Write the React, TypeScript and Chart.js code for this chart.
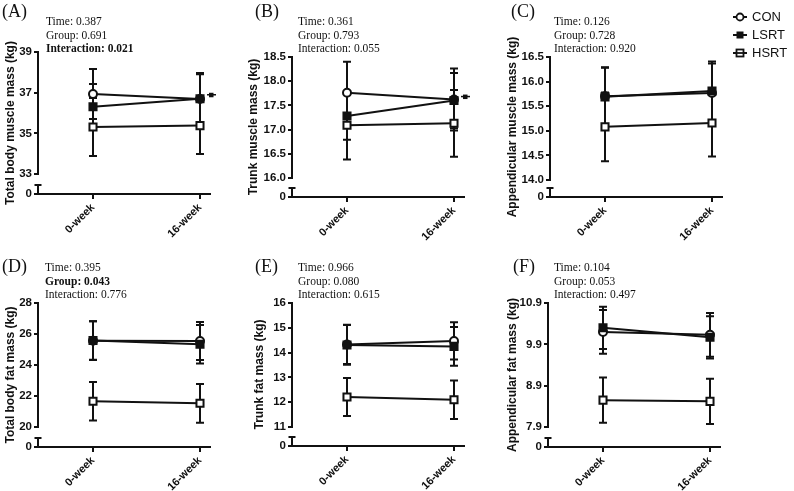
import React, { useEffect, useRef } from 'react';
import { Chart, registerables } from 'chart.js';

Chart.register(...registerables);

const INK = '#111111';
const SANS = '"Liberation Sans", Arial, sans-serif';
const SERIF = '"Liberation Serif", "Times New Roman", serif';

// ---------- data ----------
const timepoints = ['0-week', '16-week'];
const groups = ['CON', 'LSRT', 'HSRT'];
const statNames = ['Time', 'Group', 'Interaction'];

// (A) Total body muscle mass
const aCON = [36.93, 36.69];
const aCONsd = [1.23, 1.28];
const aLSRT = [36.31, 36.7];
const aLSRTsd = [1.12, 1.2];
const aHSRT = [35.31, 35.38];
const aHSRTsd = [1.43, 1.4];
const aTicks = [33, 35, 37, 39];
const aStats = ['0.387', '0.691', '0.021'];

// (B) Trunk muscle mass
const bCON = [17.76, 17.62];
const bCONsd = [0.64, 0.64];
const bLSRT = [17.28, 17.6];
const bLSRTsd = [0.49, 0.57];
const bHSRT = [17.09, 17.13];
const bHSRTsd = [0.71, 0.69];
const bTicks = [16.0, 16.5, 17.0, 17.5, 18.0, 18.5];
const bStats = ['0.361', '0.793', '0.055'];

// (C) Appendicular muscle mass
const cCON = [15.7, 15.77];
const cCONsd = [0.58, 0.6];
const cLSRT = [15.69, 15.81];
const cLSRTsd = [0.6, 0.6];
const cHSRT = [15.08, 15.16];
const cHSRTsd = [0.7, 0.68];
const cTicks = [14.0, 14.5, 15.0, 15.5, 16.0, 16.5];
const cStats = ['0.126', '0.728', '0.920'];

// (D) Total body fat mass
const dCON = [25.57, 25.55];
const dCONsd = [1.25, 1.22];
const dLSRT = [25.58, 25.34];
const dLSRTsd = [1.24, 1.24];
const dHSRT = [21.66, 21.53];
const dHSRTsd = [1.24, 1.25];
const dTicks = [20, 22, 24, 26, 28];
const dStats = ['0.395', '0.043', '0.776'];

// (E) Trunk fat mass
const eCON = [14.33, 14.47];
const eCONsd = [0.79, 0.75];
const eLSRT = [14.31, 14.25];
const eLSRTsd = [0.8, 0.78];
const eHSRT = [12.21, 12.1];
const eHSRTsd = [0.77, 0.78];
const eTicks = [11, 12, 13, 14, 15, 16];
const eStats = ['0.966', '0.080', '0.615'];

// (F) Appendicular fat mass
const fCON = [10.2, 10.13];
const fCONsd = [0.53, 0.53];
const fLSRT = [10.3, 10.07];
const fLSRTsd = [0.51, 0.51];
const fHSRT = [8.55, 8.52];
const fHSRTsd = [0.55, 0.55];
const fTicks = [7.9, 8.9, 9.9, 10.9];
const fStats = ['0.104', '0.053', '0.497'];

// ---------- layout ----------
const PLOT_W = 172;
const X_MIN = -55 / 107;
const X_MAX = 1 + 10 / 107;

type PanelCfg = {
  label: string;
  title: string;
  means: number[][];
  sds: number[][];
  ticks: number[];
  decimals: number;
  stats: string[];
  boldStat: number;
  flag: boolean;
  legend: boolean;
  axisX: number;
  topY: number;
  loY: number;
  axisY: number;
  yWidth: number;
  rowTop: number;
  rowH: number;
  padRight: number;
  statsX: number;
  statsY: number;
  labelX: number;
  labelY: number;
};

const panels: PanelCfg[] = [
  {
    label: '(A)', title: 'Total body muscle mass (kg)',
    means: [aCON, aLSRT, aHSRT], sds: [aCONsd, aLSRTsd, aHSRTsd],
    ticks: aTicks, decimals: 0, stats: aStats, boldStat: 2, flag: true, legend: false,
    axisX: 38, topY: 52, loY: 174, axisY: 194, yWidth: 38, rowTop: 0, rowH: 245, padRight: 22,
    statsX: 46, statsY: 15, labelX: 2, labelY: 1,
  },
  {
    label: '(B)', title: 'Trunk muscle mass (kg)',
    means: [bCON, bLSRT, bHSRT], sds: [bCONsd, bLSRTsd, bHSRTsd],
    ticks: bTicks, decimals: 1, stats: bStats, boldStat: -1, flag: true, legend: false,
    axisX: 292, topY: 57, loY: 178, axisY: 197, yWidth: 49, rowTop: 0, rowH: 245, padRight: 22,
    statsX: 298, statsY: 15, labelX: 255, labelY: 1,
  },
  {
    label: '(C)', title: 'Appendicular muscle mass (kg)',
    means: [cCON, cLSRT, cHSRT], sds: [cCONsd, cLSRTsd, cHSRTsd],
    ticks: cTicks, decimals: 1, stats: cStats, boldStat: -1, flag: false, legend: true,
    axisX: 550, topY: 57, loY: 180, axisY: 197, yWidth: 48, rowTop: 0, rowH: 245, padRight: 72,
    statsX: 554, statsY: 15, labelX: 511, labelY: 1,
  },
  {
    label: '(D)', title: 'Total body fat mass (kg)',
    means: [dCON, dLSRT, dHSRT], sds: [dCONsd, dLSRTsd, dHSRTsd],
    ticks: dTicks, decimals: 0, stats: dStats, boldStat: 1, flag: false, legend: false,
    axisX: 38, topY: 303, loY: 427, axisY: 447, yWidth: 38, rowTop: 245, rowH: 246, padRight: 22,
    statsX: 45, statsY: 261, labelX: 2, labelY: 256,
  },
  {
    label: '(E)', title: 'Trunk fat mass (kg)',
    means: [eCON, eLSRT, eHSRT], sds: [eCONsd, eLSRTsd, eHSRTsd],
    ticks: eTicks, decimals: 0, stats: eStats, boldStat: -1, flag: false, legend: false,
    axisX: 292, topY: 303, loY: 427, axisY: 446, yWidth: 43, rowTop: 245, rowH: 246, padRight: 22,
    statsX: 298, statsY: 261, labelX: 255, labelY: 256,
  },
  {
    label: '(F)', title: 'Appendicular fat mass (kg)',
    means: [fCON, fLSRT, fHSRT], sds: [fCONsd, fLSRTsd, fHSRTsd],
    ticks: fTicks, decimals: 1, stats: fStats, boldStat: -1, flag: false, legend: false,
    axisX: 548, topY: 303, loY: 427, axisY: 447, yWidth: 46, rowTop: 245, rowH: 246, padRight: 22,
    statsX: 554, statsY: 261, labelX: 513, labelY: 256,
  },
];

// CON open circle, LSRT filled square (drawn on top), HSRT open square
const markerStyles = [
  { pointStyle: 'circle', radius: 4, bg: '#ffffff', order: 1 },
  { pointStyle: 'rect', radius: 5, bg: INK, order: 0 },
  { pointStyle: 'rect', radius: 5, bg: '#ffffff', order: 2 },
];

// ---------- plugins ----------
const errorBars = {
  id: 'errorBars',
  beforeDatasetsDraw(chart: any) {
    const { ctx } = chart;
    const xs = chart.scales.x;
    const ys = chart.scales.y;
    ctx.save();
    ctx.strokeStyle = INK;
    ctx.lineWidth = 2;
    chart.data.datasets.forEach((ds: any) => {
      ds.data.forEach((pt: any, j: number) => {
        const sd = ds.sd[j];
        const x = xs.getPixelForValue(pt.x);
        const yt = ys.getPixelForValue(pt.y + sd);
        const yb = ys.getPixelForValue(pt.y - sd);
        ctx.beginPath();
        ctx.moveTo(x, yt);
        ctx.lineTo(x, yb);
        ctx.moveTo(x - 4, yt);
        ctx.lineTo(x + 4, yt);
        ctx.moveTo(x - 4, yb);
        ctx.lineTo(x + 4, yb);
        ctx.stroke();
      });
    });
    ctx.restore();
  },
};

const brokenAxis = {
  id: 'brokenAxis',
  afterDraw(chart: any, _args: any, opts: any) {
    const { ctx, chartArea } = chart;
    const ys = chart.scales.y;
    const x0 = chartArea.left;
    ctx.save();
    ctx.strokeStyle = INK;
    ctx.lineWidth = 2;
    ctx.beginPath();
    ctx.moveTo(x0, ys.getPixelForValue(opts.hi) - 1);
    ctx.lineTo(x0, ys.getPixelForValue(opts.lo) + 1);
    const capY = chartArea.bottom - 9;
    ctx.moveTo(x0, capY);
    ctx.lineTo(x0, chartArea.bottom);
    ctx.moveTo(x0 - 3.5, capY);
    ctx.lineTo(x0 + 3.5, capY);
    ctx.stroke();

    if (opts.flag) {
      const ds = chart.data.datasets[1];
      const px = chart.scales.x.getPixelForValue(1);
      const py = ys.getPixelForValue(ds.data[1].y) - 4;
      ctx.lineWidth = 1.5;
      ctx.beginPath();
      ctx.moveTo(px + 7, py);
      ctx.lineTo(px + 16, py);
      ctx.stroke();
      ctx.fillStyle = INK;
      ctx.fillRect(px + 9, py - 2, 4.5, 4.5);
    }

    if (opts.legend) {
      const lx = chartArea.right + 11;
      groups.forEach((g, i) => {
        const cy = chartArea.top - 40 + i * 18;
        ctx.strokeStyle = INK;
        ctx.lineWidth = 2;
        ctx.beginPath();
        ctx.moveTo(lx, cy);
        ctx.lineTo(lx + 14, cy);
        ctx.stroke();
        const cx = lx + 7;
        ctx.lineWidth = 1.8;
        if (i === 0) {
          ctx.beginPath();
          ctx.arc(cx, cy, 3.5, 0, Math.PI * 2);
          ctx.fillStyle = '#fff';
          ctx.fill();
          ctx.stroke();
        } else if (i === 1) {
          ctx.fillStyle = INK;
          ctx.fillRect(cx - 3.5, cy - 3.5, 7, 7);
        } else {
          ctx.fillStyle = '#fff';
          ctx.fillRect(cx - 3.5, cy - 3.5, 7, 7);
          ctx.strokeRect(cx - 3.5, cy - 3.5, 7, 7);
          ctx.beginPath();
          ctx.moveTo(cx - 3.5, cy);
          ctx.lineTo(cx + 3.5, cy);
          ctx.stroke();
        }
        ctx.fillStyle = INK;
        ctx.font = `13px ${SANS}`;
        ctx.textBaseline = 'middle';
        ctx.textAlign = 'left';
        ctx.fillText(g, lx + 19, cy + 0.5);
      });
    }
    ctx.restore();
  },
};

// ---------- components ----------
function Panel({ p }: { p: PanelCfg }) {
  const ref = useRef<HTMLCanvasElement>(null);
  const left = p.axisX - p.yWidth;
  const width = p.axisX + PLOT_W + p.padRight - left;

  useEffect(() => {
    const lo = p.ticks[0];
    const hi = p.ticks[p.ticks.length - 1];
    const yMin = lo - ((p.axisY - p.loY) * (hi - lo)) / (p.loY - p.topY);
    const tickVals = [yMin, ...p.ticks];

    const datasets = p.means.map((m, gi) => ({
      label: groups[gi],
      data: m.map((v, i) => ({ x: i, y: v })),
      sd: p.sds[gi],
      order: markerStyles[gi].order,
      borderColor: INK,
      borderWidth: 2,
      pointStyle: markerStyles[gi].pointStyle,
      pointRadius: markerStyles[gi].radius,
      pointBackgroundColor: markerStyles[gi].bg,
      pointBorderColor: INK,
      pointBorderWidth: 2,
      tension: 0,
      fill: false,
    }));

    const chart = new Chart(ref.current as HTMLCanvasElement, {
      type: 'line',
      data: { datasets } as any,
      options: {
        responsive: false,
        maintainAspectRatio: false,
        animation: false,
        layout: { padding: { top: p.topY - p.rowTop, right: p.padRight, bottom: 0, left: 0 } },
        plugins: {
          legend: { display: false },
          tooltip: { enabled: false },
          brokenAxis: { lo, hi, flag: p.flag, legend: p.legend },
        } as any,
        scales: {
          x: {
            type: 'linear',
            min: X_MIN,
            max: X_MAX,
            grid: { drawOnChartArea: false, drawTicks: true, tickLength: 5, color: INK, lineWidth: 2 },
            border: { display: true, color: INK, width: 2 },
            ticks: {
              autoSkip: false,
              minRotation: 45,
              maxRotation: 45,
              padding: 2,
              color: INK,
              font: { family: SANS, weight: 'bold', size: 11 },
              callback: (v: any) => timepoints[Math.round(Number(v))] ?? '',
            },
            afterBuildTicks: (s: any) => {
              s.ticks = timepoints.map((_, i) => ({ value: i }));
            },
            afterFit: (s: any) => {
              s.height = p.rowTop + p.rowH - p.axisY;
            },
          },
          y: {
            type: 'linear',
            min: yMin,
            max: hi,
            grid: { drawOnChartArea: false, drawTicks: true, tickLength: 4, color: INK, lineWidth: 2 },
            border: { display: false },
            ticks: {
              autoSkip: false,
              padding: 2,
              color: INK,
              font: { family: SANS, weight: 'bold', size: 11.5 },
              callback: (v: any, idx: number) => (idx === 0 ? '0' : Number(v).toFixed(p.decimals)),
            },
            afterBuildTicks: (s: any) => {
              s.ticks = tickVals.map((v) => ({ value: v }));
            },
            afterFit: (s: any) => {
              s.width = p.yWidth;
            },
            title: {
              display: true,
              text: p.title,
              color: INK,
              font: { family: SANS, weight: 'bold', size: 12 },
              padding: { top: 3, bottom: 0 },
            },
          },
        },
      } as any,
      plugins: [errorBars, brokenAxis],
    });
    return () => chart.destroy();
  }, []);

  return (
    <canvas
      ref={ref}
      width={width}
      height={p.rowH}
      style={{ position: 'absolute', left, top: p.rowTop, width, height: p.rowH }}
    />
  );
}

function Texts({ p }: { p: PanelCfg }) {
  return (
    <>
      <div
        style={{
          position: 'absolute', left: p.labelX, top: p.labelY,
          fontFamily: SERIF, fontSize: 18, color: INK, lineHeight: '20px', whiteSpace: 'nowrap',
        }}
      >
        {p.label}
      </div>
      <div
        style={{
          position: 'absolute', left: p.statsX, top: p.statsY,
          fontFamily: SERIF, fontSize: 11.5, color: INK, lineHeight: '13.5px', whiteSpace: 'nowrap',
        }}
      >
        {statNames.map((n, i) => (
          <div key={n} style={{ fontWeight: i === p.boldStat ? 'bold' : 'normal' }}>
            {n}: {p.stats[i]}
          </div>
        ))}
      </div>
    </>
  );
}

export default function App() {
  return (
    <div
      style={{
        position: 'fixed', left: 0, top: 0, width: 794, height: 491,
        background: '#ffffff', overflow: 'hidden',
      }}
    >
      {panels.map((p) => (
        <Panel key={p.label} p={p} />
      ))}
      {panels.map((p) => (
        <Texts key={'t' + p.label} p={p} />
      ))}
    </div>
  );
}
